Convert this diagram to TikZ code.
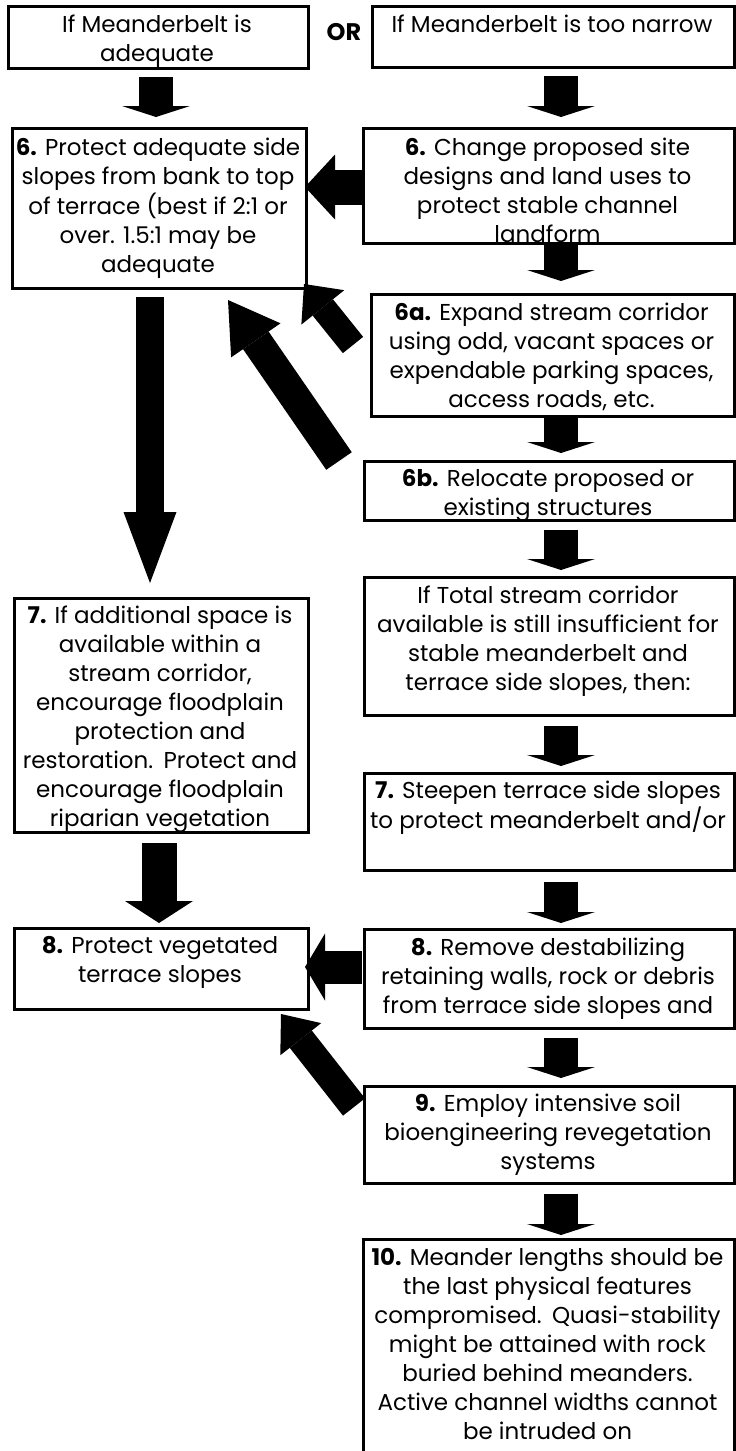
\documentclass[tikz,border=0pt]{standalone}
\usepackage{fontspec}
\setmainfont{Poppins}
\usetikzlibrary{arrows.meta}
\newcommand\ml[1]{\begin{tabular}[t]{@{}c@{}}#1\end{tabular}}
\newcommand\dsp{\hspace{0.45em}}
\begin{document}
\begin{tikzpicture}[x=1pt,y=-1pt,
  box/.style={draw, line width=2.6pt, fill=white, inner sep=0pt, anchor=north west},
  txt/.style={anchor=base, inner sep=0pt, font=\fontsize{23}{29}\selectfont},
  vdn/.style={line width=34pt, -{Triangle[length=11pt,width=68pt,line width=0pt]}}
]
\useasboundingbox (0,0) rectangle (736,1451);
% boxes
\node[box, minimum width=300pt, minimum height=62pt] (b1) at (7,5) {};
\node[box, minimum width=362pt, minimum height=61pt] (b2) at (371,5) {};
\node[box, minimum width=294pt, minimum height=160pt] (b6L) at (11,127) {};
\node[box, minimum width=371pt, minimum height=115pt] (b6R) at (362,127) {};
\node[box, minimum width=363pt, minimum height=122pt] (b6a) at (370,293) {};
\node[box, minimum width=370pt, minimum height=59pt] (b6b) at (363,460) {};
\node[box, minimum width=370pt, minimum height=138pt] (bT) at (363,576) {};
\node[box, minimum width=294pt, minimum height=234pt] (b7L) at (13,597) {};
\node[box, minimum width=370pt, minimum height=97pt] (b7R) at (363,772) {};
\node[box, minimum width=294pt, minimum height=81pt] (b8L) at (13,927) {};
\node[box, minimum width=370pt, minimum height=99pt] (b8R) at (363,928) {};
\node[box, minimum width=370pt, minimum height=97pt] (b9) at (363,1085) {};
\node[box, minimum width=371pt, minimum height=240pt] (b10) at (362,1238) {};
% texts
\node[txt] (t1) at (157,32) {\ml{If Meanderbelt is\\adequate}};
\node[txt] (tor) at (344,40) {\fontsize{24}{29}\selectfont\textbf{OR}};
\node[txt] (t2) at (552,32) {\ml{If Meanderbelt is too narrow}};
\node[txt] (t6L) at (158,155) {\ml{\textbf{6.} Protect adequate side\\slopes from bank to top\\of terrace (best if 2:1 or\\over. 1.5:1 may be\\adequate}};
\node[txt] (t6R) at (547.5,155) {\ml{\textbf{6.} Change proposed site\\designs and land uses to\\protect stable channel\\landform}};
\node[txt] (t6a) at (551.5,320) {\ml{\textbf{6a.} Expand stream corridor\\using odd, vacant spaces or\\expendable parking spaces,\\access roads, etc.}};
\node[txt] (t6b) at (548,486) {\ml{\textbf{6b.} Relocate proposed or\\existing structures}};
\node[txt] (tT) at (548,603) {\ml{If Total stream corridor\\available is still insufficient for\\stable meanderbelt and\\terrace side slopes, then:}};
\node[txt] (t7L) at (160,623) {\ml{\textbf{7.} If additional space is\\available within a\\stream corridor,\\encourage floodplain\\protection and\\restoration.\dsp Protect and\\encourage floodplain\\riparian vegetation}};
\node[txt] (t7R) at (548,798) {\ml{\textbf{7.} Steepen terrace side slopes\\to protect meanderbelt and/or}};
\node[txt] (t8L) at (160,953) {\ml{\textbf{8.} Protect vegetated\\terrace slopes}};
\node[txt] (t8R) at (548,955) {\ml{\textbf{8.} Remove destabilizing\\retaining walls, rock or debris\\from terrace side slopes and}};
\node[txt] (t9) at (548,1111) {\ml{\textbf{9.} Employ intensive soil\\bioengineering revegetation\\systems}};
\node[txt] (t10) at (547.5,1265) {\ml{\textbf{10.} Meander lengths should be\\the last physical features\\compromised.\dsp Quasi-stability\\might be attained with rock\\buried behind meanders.\\Active channel widths cannot\\be intruded on}};
% arrow end points
\coordinate (l1s) at (156,77);   \coordinate (l1e) at (156,117);
\coordinate (a1s) at (561,76);   \coordinate (a1e) at (561,117);
\coordinate (a2s) at (561,243);  \coordinate (a2e) at (561,281);
\coordinate (a3s) at (561,417);  \coordinate (a3e) at (561,453);
\coordinate (a4s) at (561,530);  \coordinate (a4e) at (561,570);
\coordinate (a5s) at (561,726);  \coordinate (a5e) at (561,766);
\coordinate (a6s) at (561,882);  \coordinate (a6e) at (561,923);
\coordinate (a7s) at (561,1038); \coordinate (a7e) at (561,1078);
\coordinate (a8s) at (561,1194); \coordinate (a8e) at (561,1235);
\coordinate (l2s) at (150,297);  \coordinate (l2e) at (150,583);
\coordinate (l3s) at (159,843);  \coordinate (l3e) at (159,923);
\coordinate (h1s) at (362,187);  \coordinate (h1e) at (305,187);
\coordinate (h2s) at (362,967);  \coordinate (h2e) at (305,967);
\coordinate (d1s) at (353,345);  \coordinate (d1e) at (304,284);
\coordinate (d2s) at (339,461);  \coordinate (d2e) at (228,300);
\coordinate (d3s) at (354,1107); \coordinate (d3e) at (281,1014);
% arrows
\draw[vdn] (l1s) -- (l1e);
\draw[vdn] (a1s) -- (a1e);
\draw[vdn] (a2s) -- (a2e);
\draw[vdn] (a3s) -- (a3e);
\draw[vdn] (a4s) -- (a4e);
\draw[vdn] (a5s) -- (a5e);
\draw[vdn] (a6s) -- (a6e);
\draw[vdn] (a7s) -- (a7e);
\draw[vdn] (a8s) -- (a8e);
\draw[line width=28pt, -{Triangle[length=71pt,width=53pt,line width=0pt]}] (l2s) -- (l2e);
\draw[line width=35pt, -{Triangle[length=22pt,width=68pt,line width=0pt]}] (l3s) -- (l3e);
\draw[line width=35pt, -{Triangle[length=30pt,width=65pt,line width=0pt]}] (h1s) -- (h1e);
\draw[line width=33pt, -{Triangle[length=20pt,width=67pt,line width=0pt]}] (h2s) -- (h2e);
\draw[line width=26pt, -{Triangle[length=30pt,width=55pt,line width=0pt]}] (d1s) -- (d1e);
\draw[line width=31pt, -{Triangle[length=49pt,width=60pt,line width=0pt]}] (d2s) -- (d2e);
\draw[line width=28pt, -{Triangle[length=32pt,width=52pt,line width=0pt]}] (d3s) -- (d3e);
\end{tikzpicture}
\end{document}
